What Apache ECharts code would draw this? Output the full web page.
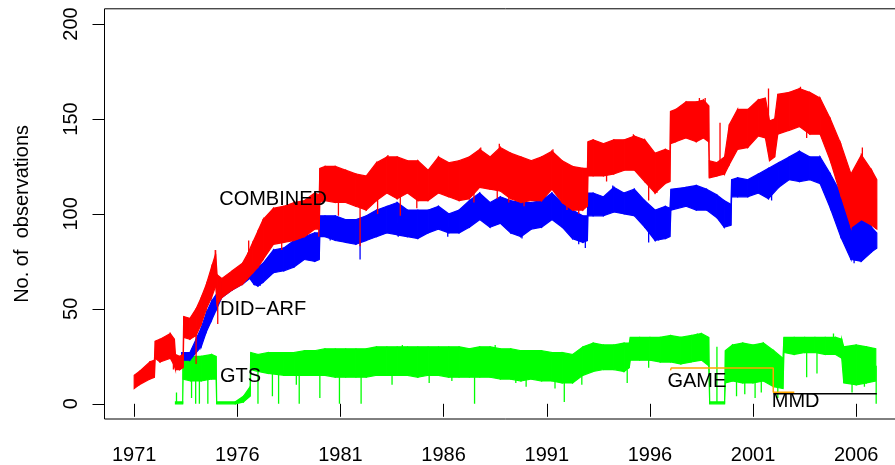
<!DOCTYPE html>
<html>
<head>
<meta charset="utf-8">
<script src="https://cdn.jsdelivr.net/npm/echarts@6/dist/echarts.min.js"></script>
<style>
  html, body { margin: 0; padding: 0; background: #ffffff; overflow: hidden; width: 895px; height: 465px; }
  /* the plot frame runs past the right edge of the window, so the canvas is wider than it */
  #chart { width: 912px; height: 465px; }
</style>
</head>
<body>
<div id="chart"></div>
<script>
// Daily number of observations per archive, kept as low/high envelopes over time.
const yearTicks = [1971, 1976, 1981, 1986, 1991, 1996, 2001, 2006];
const countTicks = [0, 50, 100, 150, 200];

// COMBINED
const combinedYears = [1971.0, 1971.25, 1971.75, 1971.98, 1972.02, 1972.25, 1972.75, 1972.95, 1973.0, 1973.2,
  1973.37, 1973.4, 1973.7, 1974.0, 1974.25, 1974.5, 1974.75, 1974.95, 1975.02, 1975.25,
  1975.75, 1976.25, 1976.5, 1976.75, 1977.0, 1977.25, 1977.75, 1978.25, 1978.75, 1979.25,
  1979.75, 1979.97, 1980.0, 1980.25, 1980.75, 1981.25, 1981.75, 1982.25, 1982.75, 1983.25,
  1983.75, 1984.25, 1984.75, 1985.25, 1985.75, 1986.25, 1986.75, 1987.25, 1987.75, 1988.25,
  1988.75, 1989.25, 1989.75, 1990.25, 1990.75, 1991.25, 1991.75, 1992.25, 1992.75, 1992.97,
  1993.0, 1993.25, 1993.75, 1994.25, 1994.75, 1995.25, 1995.75, 1996.25, 1996.75, 1996.97,
  1997.0, 1997.25, 1997.75, 1998.25, 1998.6, 1998.85, 1998.88, 1999.25, 1999.62, 1999.85,
  2000.25, 2000.75, 2001.25, 2001.6, 2001.8, 2002.05, 2002.2, 2002.75, 2003.25, 2003.75,
  2004.25, 2004.75, 2005.25, 2005.75, 2006.25, 2006.75, 2007.0];
const combinedLow = [8, 10, 13, 14, 24, 22, 24, 20, 18, 18,
  19, 35, 34, 36, 42, 50, 56, 62, 52, 56,
  60, 63, 66, 69, 72, 76, 84, 85, 86, 88,
  92, 92, 106, 107, 106, 106, 104, 102, 107, 111,
  108, 111, 107, 107, 111, 109, 107, 108, 114, 113,
  112, 108, 106, 107, 107, 113, 106, 102, 102, 104,
  120, 120, 120, 121, 123, 123, 117, 111, 116, 117,
  137, 138, 140, 138, 140, 138, 119, 120, 121, 126,
  134, 135, 141, 140, 128, 130, 142, 144, 146, 142,
  142, 128, 110, 93, 97, 94, 92];
const combinedHigh = [15, 17, 22, 23, 33, 34, 37, 34, 26, 25,
  26, 46, 45, 50, 56, 63, 72, 79, 68, 66,
  70, 74, 79, 85, 91, 97, 103, 104, 106, 107,
  111, 110, 124, 125, 125, 123, 121, 120, 127, 130,
  130, 128, 128, 123, 130, 127, 128, 130, 134, 130,
  135, 132, 130, 128, 130, 133, 128, 125, 124, 124,
  138, 139, 137, 139, 139, 141, 139, 132, 134, 133,
  154, 155, 159, 159, 160, 157, 128, 127, 130, 147,
  155, 155, 160, 161, 149, 150, 163, 164, 166, 164,
  161, 150, 137, 121, 131, 123, 118];
// single-day excursions of COMBINED: [year, from, to]
const combinedSpikes = [[1972.9, 18, 30], [1974.0, 21, 40], [1974.93, 70, 81], [1975.05, 42, 60],
  [1976.55, 75, 86], [1978.15, 81, 95], [1979.4, 92, 100], [1979.95, 88, 100], [1980.9, 99, 112],
  [1981.95, 83, 110], [1982.8, 100, 112], [1983.3, 125, 131], [1983.9, 99, 115], [1984.7, 103, 115],
  [1987.47, 106, 115], [1987.8, 130, 135], [1988.6, 108, 118], [1988.7, 130, 137], [1989.16, 106, 115],
  [1989.9, 104, 112], [1991.3, 128, 134], [1991.98, 102, 110], [1992.55, 100, 108], [1993.9, 117, 124],
  [1995.2, 138, 142], [1995.94, 107, 125], [1996.34, 111, 118], [1998.4, 155, 161], [1998.68, 155, 161],
  [1999.4, 125, 148], [2001.75, 150, 166], [2003.3, 160, 167], [2003.6, 140, 150], [2006.3, 125, 135],
  [2006.95, 92, 108]];

// DID-ARF
const didYears = [1973.3, 1973.7, 1974.0, 1974.25, 1974.5, 1974.75, 1975.0, 1975.25, 1975.75, 1976.25,
  1976.6, 1976.8, 1977.0, 1977.25, 1977.75, 1978.25, 1978.75, 1979.25, 1979.75, 1979.97,
  1980.0, 1980.25, 1980.75, 1981.25, 1981.75, 1982.25, 1982.75, 1983.25, 1983.75, 1984.25,
  1984.75, 1985.25, 1985.75, 1986.25, 1986.75, 1987.25, 1987.75, 1988.25, 1988.75, 1989.25,
  1989.75, 1990.25, 1990.75, 1991.25, 1991.75, 1992.25, 1992.75, 1992.97, 1993.0, 1993.25,
  1993.75, 1994.25, 1994.75, 1995.25, 1995.75, 1996.25, 1996.75, 1996.97, 1997.02, 1997.75,
  1998.25, 1998.75, 1999.25, 1999.6, 1999.93, 1999.96, 2000.25, 2000.75, 2001.25, 2001.75,
  2002.25, 2002.75, 2003.25, 2003.75, 2004.25, 2004.75, 2005.25, 2005.75, 2006.25, 2006.75,
  2007.0];
const didLow = [23, 23, 27, 30, 38, 44, 50, 56, 60, 63,
  66, 63, 62, 64, 69, 70, 72, 76, 75, 76,
  88, 88, 86, 85, 84, 86, 88, 90, 89, 88,
  87, 90, 92, 90, 90, 93, 97, 93, 95, 90,
  88, 92, 93, 97, 93, 87, 85, 86, 99, 99,
  99, 101, 100, 99, 93, 86, 87, 88, 102, 104,
  102, 102, 98, 93, 94, 109, 109, 109, 111, 108,
  114, 118, 117, 118, 116, 103, 88, 76, 75, 80,
  82];
const didHigh = [27, 27, 34, 40, 48, 54, 58, 64, 68, 72,
  74, 72, 72, 74, 81, 82, 86, 88, 90, 90,
  99, 99, 99, 97, 97, 99, 102, 104, 106, 102,
  102, 102, 104, 100, 102, 107, 111, 106, 109, 107,
  106, 106, 107, 111, 106, 102, 99, 99, 111, 111,
  109, 114, 111, 113, 107, 102, 104, 103, 113, 114,
  115, 113, 110, 107, 105, 118, 119, 118, 121, 124,
  127, 130, 133, 130, 130, 121, 111, 97, 102, 93,
  90];
const didSpikes = [[1977.1, 62, 66], [1980.5, 86, 90], [1981.95, 76, 90], [1983.8, 88, 95], [1986.2, 88, 93],
  [1989.8, 87, 94], [1992.55, 84, 95], [1992.87, 82, 90], [1994.2, 112, 115], [1995.94, 85, 95],
  [1996.42, 86, 92], [2001.9, 107, 114], [2003.2, 130, 133], [2005.9, 74, 80], [2006.2, 98, 103]];

// GTS
const gtsYears = [1973.0, 1973.35, 1973.37, 1973.75, 1974.25, 1974.75, 1974.97, 1975.0, 1975.9, 1976.3,
  1976.62, 1976.65, 1977.0, 1977.5, 1978.25, 1978.75, 1979.25, 1979.75, 1980.25, 1980.75,
  1981.25, 1981.75, 1982.25, 1982.75, 1983.25, 1983.75, 1984.25, 1984.75, 1985.25, 1985.75,
  1986.25, 1986.75, 1987.25, 1987.75, 1988.25, 1988.75, 1989.25, 1989.75, 1990.25, 1990.75,
  1991.25, 1991.75, 1992.25, 1992.75, 1993.25, 1993.75, 1994.25, 1994.75, 1995.0, 1995.05,
  1995.5, 1996.0, 1996.5, 1997.0, 1997.5, 1998.0, 1998.5, 1998.85, 1998.9, 1999.62,
  1999.66, 2000.0, 2000.5, 2001.0, 2001.5, 2002.0, 2002.45, 2002.5, 2003.0, 2003.5,
  2004.0, 2004.5, 2005.0, 2005.3, 2005.4, 2006.0, 2006.5, 2006.95];
const gtsLow = [0, 0, 13, 12, 12, 13, 13, 0, 0, 1,
  4, 18, 17, 16, 15, 15, 15, 15, 15, 14,
  14, 14, 14, 15, 15, 15, 15, 14, 15, 15,
  14, 14, 14, 14, 14, 13, 13, 12, 13, 12,
  12, 11, 11, 15, 17, 18, 18, 17, 19, 23,
  23, 23, 22, 22, 21, 22, 23, 20, 0, 0,
  11, 12, 11, 11, 12, 9, 8, 27, 26, 27,
  27, 26, 26, 24, 11, 10, 11, 12];
const gtsHigh = [1, 1, 25, 25, 25, 26, 25, 1, 1, 4,
  9, 27, 26, 27, 27, 27, 28, 28, 29, 29,
  29, 29, 29, 30, 30, 30, 30, 30, 30, 30,
  30, 30, 29, 30, 30, 29, 29, 28, 28, 28,
  27, 27, 26, 30, 32, 31, 31, 32, 32, 35,
  35, 35, 35, 36, 35, 36, 37, 35, 1, 1,
  28, 31, 32, 31, 32, 28, 24, 35, 35, 35,
  35, 35, 35, 34, 30, 31, 30, 29];
const gtsSpikes = [[1973.05, 0, 6], [1973.78, 3, 15], [1973.98, 0, 15], [1974.16, 0, 15], [1974.57, 0, 15],
  [1977.0, 0, 18], [1977.7, 4, 17], [1978.0, 0, 16], [1978.86, 10, 16], [1979.0, 0, 16],
  [1980.0, 3, 16], [1980.95, 0, 15], [1982.0, 0, 15], [1983.5, 10, 16], [1985.3, 11, 16],
  [1986.4, 12, 15], [1987.5, 0, 15], [1989.5, 11, 14], [1990.0, 9, 14], [1991.4, 8, 13],
  [1991.85, 1, 12], [1992.7, 10, 15], [1994.9, 11, 18], [1995.94, 19, 24], [1999.25, 1, 30],
  [2000.2, 4, 14], [2000.6, 5, 13], [2001.1, 3, 13], [2001.4, 6, 14], [2002.2, 3, 11],
  [2003.6, 14, 27], [2004.1, 16, 27], [2005.8, 6, 12], [2006.4, 9, 12], [2006.97, 0, 20],
  [1984.0, 29, 31], [1988.5, 29, 31], [1998.3, 36, 37], [2004.9, 34, 37]];

// GAME and MMD step lines
const gameYears = [1997.0, 1997.03, 2001.98, 2001.98, 2003.0];
const gameValues = [17.6, 18.8, 18.8, 6.1, 6.1];
const mmdYears = [2002.0, 2007.0];
const mmdValues = [5.3, 5.3];

// Series name labels: [text, year, count]
const seriesLabels = [['COMBINED', 1975.12, 107.7], ['DID\u2212ARF', 1975.16, 49.8], ['GTS', 1975.16, 14.4],
  ['GAME', 1996.85, 11.7], ['MMD', 2001.91, 1.2]];

const FONT = '"Liberation Sans", Arial, Helvetica, sans-serif';

function bandSeries(name, years, low, high, color, z) {
  return {
    type: 'custom', name: name, z: z, silent: true, clip: true,
    data: years.map((t, i) => [t, low[i], high[i]]),
    encode: { x: 0, y: [1, 2] },
    renderItem: function (params, api) {
      const i = params.dataIndex;
      if (i >= years.length - 1) return null;
      const a = api.coord([years[i], low[i]]);
      const b = api.coord([years[i + 1], low[i + 1]]);
      const c = api.coord([years[i + 1], high[i + 1]]);
      const d = api.coord([years[i], high[i]]);
      return {
        type: 'polygon',
        shape: { points: [a, b, c, d] },
        style: { fill: color, stroke: color, lineWidth: 1.2 }
      };
    }
  };
}

function spikeSeries(name, spikes, color, z) {
  return {
    type: 'custom', name: name, z: z, silent: true, clip: true,
    data: spikes,
    encode: { x: 0, y: [1, 2] },
    renderItem: function (params, api) {
      const p = api.coord([api.value(0), api.value(1)]);
      const q = api.coord([api.value(0), api.value(2)]);
      return {
        type: 'line',
        shape: { x1: p[0], y1: p[1], x2: q[0], y2: q[1] },
        style: { stroke: color, lineWidth: 1.3 }
      };
    }
  };
}

const chart = echarts.init(document.getElementById('chart'), null, { renderer: 'canvas' });

chart.setOption({
  animation: false,
  backgroundColor: '#ffffff',
  grid: {
    left: 104.5, top: 8.8, width: 802, height: 410.4,
    show: true, borderColor: '#000000', borderWidth: 1, backgroundColor: 'transparent'
  },
  xAxis: {
    type: 'value', min: 1969.56, max: 2008.44,
    axisLine: { show: false },
    splitLine: { show: false },
    axisTick: { show: true, length: 13, lineStyle: { color: '#000000', width: 1 }, customValues: yearTicks },
    axisLabel: {
      customValues: yearTicks, fontSize: 20, color: '#000000', fontFamily: FONT, margin: 26,
      formatter: v => String(v)
    }
  },
  yAxis: {
    type: 'value', min: -8, max: 208,
    name: 'No. of  observations', nameLocation: 'middle', nameGap: 72, nameRotate: 90,
    nameTextStyle: { fontSize: 20, color: '#000000', fontFamily: FONT },
    axisLine: { show: false },
    splitLine: { show: false },
    axisTick: { show: true, length: 12, lineStyle: { color: '#000000', width: 1 }, customValues: countTicks },
    axisLabel: {
      customValues: countTicks, rotate: 90, fontSize: 20, color: '#000000', fontFamily: FONT, margin: 23,
      formatter: v => String(v)
    }
  },
  series: [
    bandSeries('GTS', gtsYears, gtsLow, gtsHigh, '#00ff00', 2),
    spikeSeries('GTS spikes', gtsSpikes, '#00ff00', 2),
    bandSeries('DID-ARF', didYears, didLow, didHigh, '#0000ff', 3),
    spikeSeries('DID-ARF spikes', didSpikes, '#0000ff', 3),
    bandSeries('COMBINED', combinedYears, combinedLow, combinedHigh, '#ff0000', 4),
    spikeSeries('COMBINED spikes', combinedSpikes, '#ff0000', 4),
    {
      type: 'line', name: 'GAME', z: 5, silent: true, showSymbol: false,
      data: gameYears.map((t, i) => [t, gameValues[i]]),
      lineStyle: { color: '#ffa500', width: 1.5 }
    },
    {
      type: 'line', name: 'MMD', z: 5, silent: true, showSymbol: false,
      data: mmdYears.map((t, i) => [t, mmdValues[i]]),
      lineStyle: { color: '#000000', width: 1.5 }
    },
    {
      type: 'custom', name: 'labels', z: 6, silent: true,
      data: seriesLabels.map(l => [l[1], l[2]]),
      encode: { x: 0, y: 1 },
      renderItem: function (params, api) {
        const p = api.coord([api.value(0), api.value(1)]);
        return {
          type: 'text', x: p[0], y: p[1],
          style: {
            text: seriesLabels[params.dataIndex][0],
            font: '20px ' + FONT, fill: '#000000',
            align: 'left', verticalAlign: 'middle'
          }
        };
      }
    }
  ]
});
</script>
</body>
</html>
